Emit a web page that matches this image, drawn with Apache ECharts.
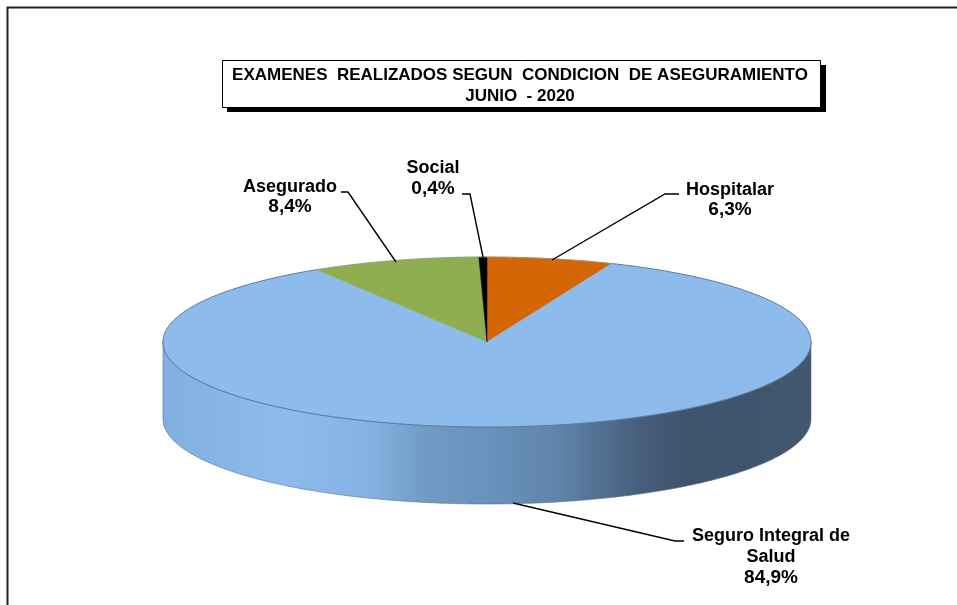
<!DOCTYPE html>
<html>
<head>
<meta charset="utf-8">
<style>html,body{margin:0;padding:0;background:#fff}#c{width:957px;height:605px}</style>
<script src="https://cdn.jsdelivr.net/npm/echarts@6/dist/echarts.min.js"></script>
</head>
<body>
<div id="c"></div>
<script>
// Data
var categories = ['Hospitalar', 'Seguro Integral de Salud', 'Asegurado', 'Social'];
var labelLines = [['Hospitalar'], ['Seguro Integral de', 'Salud'], ['Asegurado'], ['Social']];
var values = [6.3, 84.9, 8.4, 0.4];
var valueLabels = ['6,3%', '84,9%', '8,4%', '0,4%'];
var titleLines = ['EXAMENES  REALIZADOS SEGUN  CONDICION  DE ASEGURAMIENTO', 'JUNIO  - 2020'];

// Presentation
var sliceColors = ['#d56605', '#8cbbec', '#8fae4f', '#000000'];
var PIE = {cx: 487, cy: 342, rx: 324, ry: 85, depth: 77};
var LABELS = [
  {x: 730, y: 190, lh: 20, line: [[552, 260], [665, 194], [679, 194]]},
  {x: 771, y: 536, lh: 21, line: [[513, 503], [675, 541], [684, 541]]},
  {x: 290, y: 187, lh: 20, line: [[396, 262], [348, 192], [341, 192]]},
  {x: 433, y: 168, lh: 21, line: [[483, 257], [470, 194], [462, 194]]}
];
var FAMILY = '"Liberation Sans", Arial, sans-serif';
var FONT = 'bold 18px ' + FAMILY;
var FONT_VALUE = 'bold 19px ' + FAMILY;

var total = values.reduce(function (a, b) { return a + b; }, 0);
var starts = [];
values.reduce(function (acc, v, i) { starts[i] = acc; return acc + v; }, 0);

function pt(deg, dy) {
  var r = deg * Math.PI / 180;
  return [PIE.cx + PIE.rx * Math.sin(r), PIE.cy - PIE.ry * Math.cos(r) + (dy || 0)];
}
function arc(a, b, dy) {
  var out = [], n = Math.max(2, Math.ceil(Math.abs(b - a)));
  for (var i = 0; i <= n; i++) out.push(pt(a + (b - a) * i / n, dy));
  return out;
}
var sideFill = new echarts.graphic.LinearGradient(PIE.cx - PIE.rx, 0, PIE.cx + PIE.rx, 0, [
  {offset: 0, color: '#80afe0'},
  {offset: 0.196, color: '#8cbbec'},
  {offset: 0.32, color: '#84b1e0'},
  {offset: 0.41, color: '#7099c4'},
  {offset: 0.49, color: '#6a93bf'},
  {offset: 0.61, color: '#5f84aa'},
  {offset: 0.735, color: '#465f7c'},
  {offset: 0.81, color: '#3e536c'},
  {offset: 1, color: '#42586f'}
], true);

function renderSlice(params, api) {
  var i = params.dataIndex, v = api.value(0);
  var a = starts[i] / total * 360, b = a + v / total * 360;
  var kids = [];
  // visible front wall
  var fa = Math.max(a, 90), fb = Math.min(b, 270);
  if (fb > fa) {
    var top = arc(fa, fb, 0), bot = arc(fb, fa, PIE.depth);
    kids.push({type: 'polygon', z2: 1, shape: {points: top.concat(bot)},
      style: {fill: sideFill, stroke: '#5b7086', lineWidth: 0.6}});
  }
  // top face
  var pts = [[PIE.cx, PIE.cy]].concat(arc(a, b, 0));
  kids.push({type: 'polygon', z2: 2, shape: {points: pts},
    style: {fill: sliceColors[i], stroke: sliceColors[i], lineWidth: 0.5}});
  kids.push({type: 'polyline', z2: 3, shape: {points: arc(a, b, 0)},
    style: {fill: 'none', stroke: fa < fb ? '#506a88' : '#8a9a8a', lineWidth: 0.8}});
  // leader and label
  var L = LABELS[i];
  kids.push({type: 'polyline', z2: 4, shape: {points: L.line},
    style: {fill: 'none', stroke: '#000', lineWidth: 1.4}});
  var lines = labelLines[i].concat(valueLabels[i]);
  lines.forEach(function (t, k) {
    kids.push({type: 'text', z2: 5, style: {text: t, x: L.x, y: L.y + k * L.lh,
      font: k === lines.length - 1 ? FONT_VALUE : FONT, fill: '#000', align: 'center', verticalAlign: 'middle'}});
  });
  return {type: 'group', children: kids};
}

var chart = echarts.init(document.getElementById('c'), null, {renderer: 'canvas'});
chart.setOption({
  animation: false,
  backgroundColor: '#fff',
  title: {
    text: titleLines.join('\n'),
    left: 510, top: 60,
    textAlign: 'center',
    padding: [5, 13, 1, 10],
    backgroundColor: '#fff',
    borderColor: '#000', borderWidth: 1,
    textStyle: {fontFamily: FAMILY, fontWeight: 'bold', fontSize: 17, lineHeight: 21, color: '#000'}
  },
  graphic: [
    {type: 'polyline', shape: {points: [[7.5, 605], [7.5, 7.5], [957, 7.5]]}, style: {fill: 'none', stroke: '#222', lineWidth: 2}},
    {type: 'rect', z: 1, shape: {x: 227, y: 65, width: 599, height: 47}, style: {fill: '#000'}}
  ],
  series: [{
    type: 'custom',
    coordinateSystem: 'none',
    renderItem: renderSlice,
    data: values.map(function (v, i) { return {name: categories[i], value: [v]}; })
  }]
});
</script>
</body>
</html>
